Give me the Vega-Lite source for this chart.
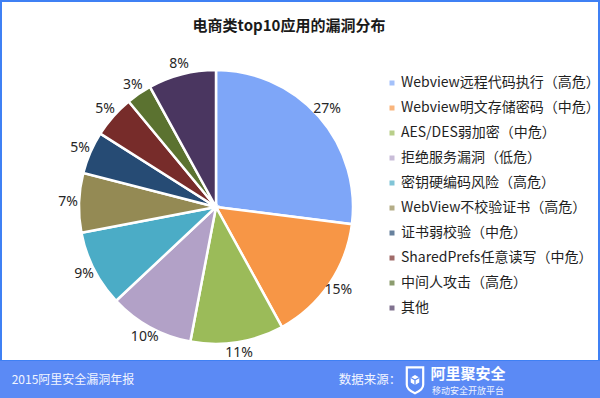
{
  "$schema": "https://vega.github.io/schema/vega-lite/v6.json",
  "background": "#3f80f4",
  "padding": 0,
  "config": {
    "view": {"stroke": null},
    "concat": {"spacing": 0},
    "font": "Noto Sans CJK SC"
  },
  "datasets": {
    "vuln": [
      {"name": "Webview远程代码执行（高危）", "value": 27, "label": "27%", "idx": 1},
      {"name": "Webview明文存储密码（中危）", "value": 15, "label": "15%", "idx": 2},
      {"name": "AES/DES弱加密（中危）", "value": 11, "label": "11%", "idx": 3},
      {"name": "拒绝服务漏洞（低危）", "value": 10, "label": "10%", "idx": 4},
      {"name": "密钥硬编码风险（高危）", "value": 9, "label": "9%", "idx": 5},
      {"name": "WebView不校验证书（高危）", "value": 7, "label": "7%", "idx": 6},
      {"name": "证书弱校验（中危）", "value": 5, "label": "5%", "idx": 7},
      {"name": "SharedPrefs任意读写（中危）", "value": 5, "label": "5%", "idx": 8},
      {"name": "中间人攻击（高危）", "value": 3, "label": "3%", "idx": 9},
      {"name": "其他", "value": 8, "label": "8%", "idx": 10}
    ]
  },
  "spacing": 0,
  "bounds": "full",
  "vconcat": [
    {"width": 600, "height": 2, "data": {"values": [{}]}, "mark": {"type": "rect", "opacity": 0}},
    {
      "spacing": 0,
      "bounds": "full",
      "hconcat": [
        {"width": 2, "height": 358, "data": {"values": [{}]}, "mark": {"type": "rect", "opacity": 0}},
        {
          "spacing": 0,
          "bounds": "full",
          "vconcat": [
            {
              "width": 596,
              "height": 52,
              "view": {"fill": "white", "stroke": null},
              "data": {"values": [{"t": "电商类top10应用的漏洞分布"}]},
              "mark": {"type": "text", "fontSize": 15, "fontWeight": "bold", "color": "#1a1a1a", "dx": -11, "dy": -2, "baseline": "middle"},
              "encoding": {"text": {"field": "t"}}
            },
            {
              "spacing": 0,
              "bounds": "flush",
              "resolve": {"scale": {"color": "independent"}, "legend": {"color": "independent"}},
              "hconcat": [
                {
                  "width": 428,
                  "height": 306,
                  "view": {"fill": "white", "stroke": null},
                  "data": {"name": "vuln"},
                  "encoding": {
                    "theta": {"field": "value", "type": "quantitative", "stack": true},
                    "order": {"field": "idx", "type": "quantitative"}
                  },
                  "layer": [
                    {
                      "mark": {"type": "arc", "outerRadius": 137, "stroke": "white", "strokeWidth": 2.5},
                      "encoding": {
                        "color": {
                          "field": "name",
                          "type": "nominal",
                          "legend": null,
                          "scale": {
                            "domain": ["Webview远程代码执行（高危）", "Webview明文存储密码（中危）", "AES/DES弱加密（中危）", "拒绝服务漏洞（低危）", "密钥硬编码风险（高危）", "WebView不校验证书（高危）", "证书弱校验（中危）", "SharedPrefs任意读写（中危）", "中间人攻击（高危）", "其他"],
                            "range": ["#7ea6f8", "#f79646", "#9bbb59", "#b2a1c7", "#4bacc6", "#948a54", "#264b74", "#772c2a", "#5b7230", "#4a3660"]
                          }
                        }
                      }
                    },
                    {
                      "mark": {"type": "text", "radius": 148, "fontSize": 14, "color": "#262626", "font": "Noto Sans"},
                      "encoding": {"text": {"field": "label"}}
                    }
                  ]
                },
                {
                  "width": 168,
                  "height": 306,
                  "view": {"fill": "white", "stroke": null},
                  "data": {"name": "vuln"},
                  "mark": {"type": "square", "size": 0},
                  "encoding": {
                    "color": {
                      "field": "name",
                      "type": "nominal",
                      "scale": {
                        "domain": ["Webview远程代码执行（高危）", "Webview明文存储密码（中危）", "AES/DES弱加密（中危）", "拒绝服务漏洞（低危）", "密钥硬编码风险（高危）", "WebView不校验证书（高危）", "证书弱校验（中危）", "SharedPrefs任意读写（中危）", "中间人攻击（高危）", "其他"],
                        "range": ["#7ea6f8", "#f79646", "#9bbb59", "#b2a1c7", "#4bacc6", "#948a54", "#264b74", "#772c2a", "#5b7230", "#4a3660"]
                      },
                      "legend": {
                        "title": null,
                        "orient": "none",
                        "legendX": -45,
                        "legendY": 22,
                        "padding": 0,
                        "symbolType": "square",
                        "symbolSize": 25,
                        "symbolStrokeWidth": 0,
                        "labelFontSize": 14,
                        "labelColor": "#1f1f1f",
                        "labelFont": "Noto Sans CJK SC",
                        "labelOffset": 2,
                        "labelLimit": 300,
                        "rowPadding": 11
                      }
                    }
                  }
                }
              ]
            }
          ]
        },
        {"width": 2, "height": 358, "data": {"values": [{}]}, "mark": {"type": "rect", "opacity": 0}}
      ]
    },
    {
      "spacing": 0,
      "bounds": "flush",
      "hconcat": [
        {
          "width": 146, "height": 38,
          "view": {"fill": "#5b8af5", "stroke": null},
          "data": {"values": [{"t": "2015阿里安全漏洞年报"}]},
          "mark": {"type": "text", "fontSize": 12, "color": "#f2f5ff", "baseline": "middle"},
          "encoding": {"text": {"field": "t"}}
        },
        {
          "width": 192, "height": 38,
          "view": {"fill": "#5b8af5", "stroke": null},
          "data": {"values": [{}]}, "mark": {"type": "rect", "opacity": 0}
        },
        {
          "width": 64, "height": 38,
          "view": {"fill": "#5b8af5", "stroke": null},
          "data": {"values": [{"t": "数据来源："}]},
          "mark": {"type": "text", "fontSize": 12.5, "color": "#f2f5ff", "baseline": "middle"},
          "encoding": {"text": {"field": "t"}}
        },
        {
          "width": 26, "height": 38,
          "view": {"fill": "#5b8af5", "stroke": null},
          "data": {"values": [{"k": "shield"}]},
          "layer": [
            {"mark": {"type": "point", "shape": "M-0.62,-0.95 L0.62,-0.95 L0.62,0.35 Q0.62,0.72 0,1 Q-0.62,0.72 -0.62,0.35 Z", "size": 700, "filled": false, "stroke": "white", "strokeWidth": 2.2, "opacity": 1}, "encoding": {}},
            {"mark": {"type": "point", "shape": "M0,-0.9 L0.78,-0.45 L0.78,0.45 L0,0.9 L-0.78,0.45 L-0.78,-0.45 Z", "size": 120, "filled": true, "color": "white", "opacity": 1, "dy": -1}, "encoding": {}},
            {"mark": {"type": "point", "shape": "M-0.78,-0.45 L0,0 L0.78,-0.45 M0,0 L0,0.9", "size": 120, "filled": false, "stroke": "#5b8af5", "strokeWidth": 1.2, "opacity": 1, "dy": -1}, "encoding": {}}
          ]
        },
        {
          "width": 80, "height": 38,
          "view": {"fill": "#5b8af5", "stroke": null},
          "data": {"values": [{"a": "阿里聚安全", "b": "移动安全开放平台"}]},
          "layer": [
            {"mark": {"type": "text", "fontSize": 15, "fontWeight": "bold", "color": "white", "baseline": "middle", "dy": -6}, "encoding": {"text": {"field": "a"}}},
            {"mark": {"type": "text", "fontSize": 9, "color": "#eef3ff", "baseline": "middle", "dy": 11}, "encoding": {"text": {"field": "b"}}}
          ]
        },
        {
          "width": 92, "height": 38,
          "view": {"fill": "#5b8af5", "stroke": null},
          "data": {"values": [{}]}, "mark": {"type": "rect", "opacity": 0}
        }
      ]
    }
  ]
}
